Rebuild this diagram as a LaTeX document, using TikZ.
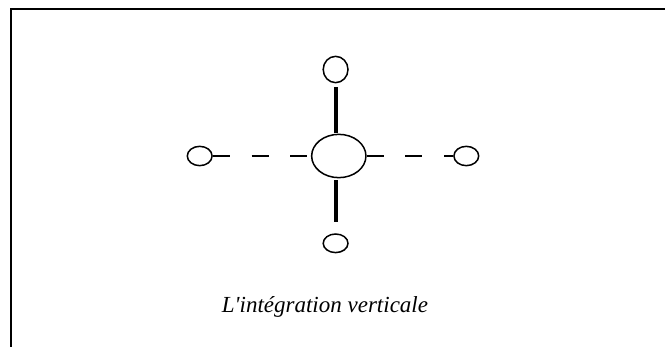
\documentclass[tikz,border=0pt]{standalone}
\usepackage{fontspec}
\newfontfamily\capfont{Liberation Serif}
\usetikzlibrary{shapes.geometric}
\begin{document}
\begin{tikzpicture}[x=1pt,y=-1pt,
  member/.style={ellipse,draw,line width=1.5pt,inner sep=0pt,
    minimum width=24.8pt,minimum height=#1},
  hubnode/.style={ellipse,draw,line width=1.5pt,inner sep=0pt,
    minimum width=54.3pt,minimum height=43.3pt},
  tie/.style={line width=4pt},
  loose/.style={line width=2pt,dash pattern=on 17pt off 21.7pt},
  frameline/.style={line width=2pt},
  caption/.style={font=\capfont\itshape\fontsize{23}{28}\selectfont,inner sep=0pt,anchor=base}]
\useasboundingbox (0,0) rectangle (665,347);

% open frame: only the top and left edges are shown
\draw[frameline] (11,347) -- (11,9) -- (665,9);

% central unit and its four partners
\node[hubnode] (hub) at (338.8,156) {};
\node[member=26.3pt] (top) at (335.6,69.5) {};
\node[member=18.6pt] (bottom) at (335.6,243.3) {};
\node[member=19.3pt] (left) at (199.7,156) {};
\node[member=19.3pt] (right) at (466.3,156) {};

% vertical ties: solid and heavy
\draw[tie,shorten <=3.7pt,shorten >=1pt] (top.south) -- (top.south |- hub.north);
\draw[tie,shorten <=1.7pt,shorten >=10.8pt] (bottom.north |- hub.south) -- (bottom.north);

% horizontal ties: dashed
\draw[loose] (left.east) -- (left.east -| hub.west);
\draw[loose] (hub.east) -- (hub.east -| right.west);

\node[caption] (title) at (325,313) {L'intégration verticale};
\end{tikzpicture}
\end{document}
